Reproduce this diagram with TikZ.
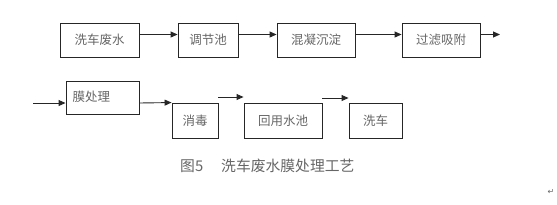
\documentclass[tikz,border=0pt]{standalone}
\usepackage{fontspec}
\newfontfamily\cjk{Noto Sans CJK SC}
\newfontfamily\djv{DejaVu Sans}
\usepackage{tikz}
\usetikzlibrary{arrows.meta}
\definecolor{txtgray}{HTML}{666666}
\tikzset{
  proc/.style={draw=black!85, line width=0.9pt, inner sep=0pt, font=\cjk\fontsize{12.5}{13}\selectfont, text=txtgray},
  flow/.style={draw=black!85, line width=0.9pt, -{Triangle[length=7pt,width=6pt]}}
}
\begin{document}
\begin{tikzpicture}[x=1pt,y=-1pt]
\useasboundingbox (0,0) rectangle (557,204);
% row 1
\node[proc, minimum width=79pt, minimum height=34pt] (b1) at (99.5,40) {洗车废水};
\node[proc, minimum width=60pt, minimum height=34pt] (b2) at (208,40) {调节池};
\node[proc, minimum width=78pt, minimum height=34pt] (b3) at (316,40) {混凝沉淀};
\node[proc, minimum width=78pt, minimum height=34pt] (b4) at (441,40) {过滤吸附};
\coordinate (e4) at (500,34.5);
\draw[flow] (b1.east |- 0,34.5) -- (b2.west |- 0,34.5);
\draw[flow] (b2.east |- 0,34.5) -- (b3.west |- 0,34.5);
\draw[flow] (b3.east |- 0,34.5) -- (b4.west |- 0,34.5);
\draw[flow] (b4.east |- e4) -- (e4);
% row 2
\coordinate (s5) at (33,103);
\node[proc, minimum width=73pt, minimum height=33pt, text width=60pt, align=left] (b5) at (102.5,97.5) {\raisebox{3pt}{膜处理}};
\node[proc, minimum width=46pt, minimum height=35pt] (b6) at (195,120.5) {消毒};
\node[proc, minimum width=78pt, minimum height=35pt] (b7) at (283,120.5) {回用水池};
\node[proc, minimum width=53pt, minimum height=35pt] (b8) at (375.5,120.5) {洗车};
\draw[flow] (s5) -- (b5.west |- s5);
\draw[flow] (b5.east |- s5) -- (b6.north west);
\coordinate (a7) at (218,97);
\draw[flow] (a7) -- (b7.north west |- a7);
\coordinate (a8) at (322,98);
\draw[flow] (a8) -- (b8.north west |- a8);
% caption
\node[font=\cjk\fontsize{14.8}{15}\selectfont, text=txtgray, anchor=west, inner sep=0pt] (cap) at (180,166) {图5\hspace{18pt}洗车废水膜处理工艺};
\node[font=\djv\fontsize{8}{8}\selectfont, text=black!60] (pm) at (551,192) {↵};
\end{tikzpicture}
\end{document}
